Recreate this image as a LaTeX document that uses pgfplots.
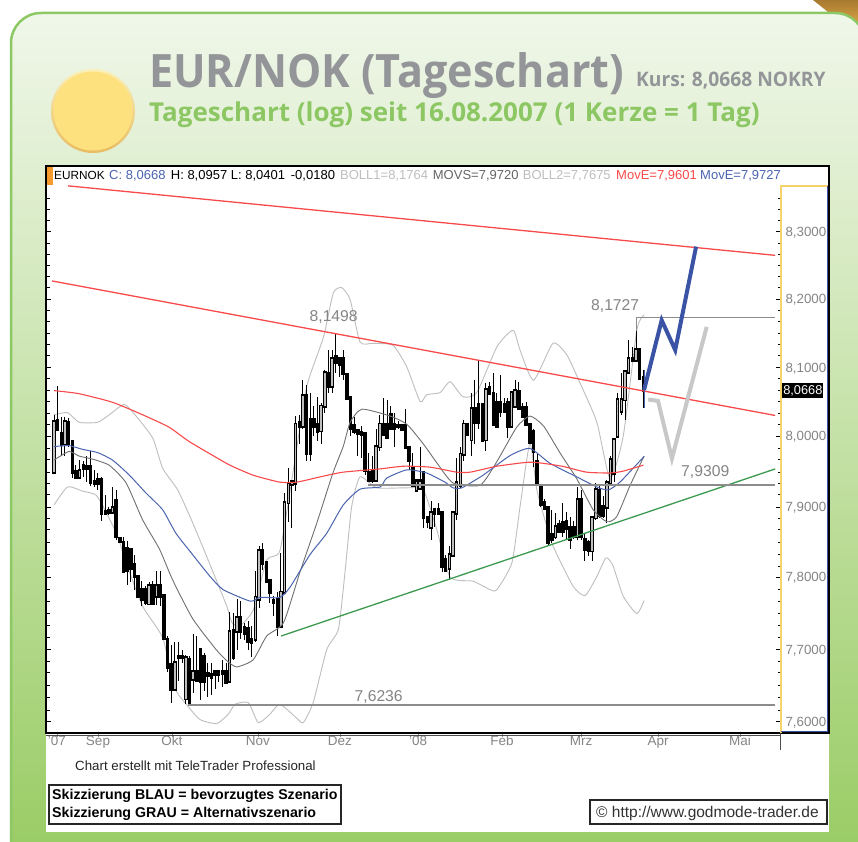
\documentclass[border=0pt]{standalone}
\usepackage{fontspec}
\setmainfont{Liberation Sans}
\newfontfamily\titlefont{Open Sans}
\usepackage{graphicx}
\usepackage{pgfplots}
\usepackage{pgfplotstable}
\pgfplotsset{compat=1.18}
\definecolor{panelg}{HTML}{8CC864}
\definecolor{titleg}{HTML}{939598}
\definecolor{subg}{HTML}{8CC763}
\definecolor{redl}{HTML}{F84A4A}
\definecolor{bluel}{HTML}{4A64B0}
\definecolor{bluet}{HTML}{3A53A4}
\definecolor{greenl}{HTML}{3D9A50}
\definecolor{lightl}{HTML}{BEBEBE}
\definecolor{movs}{HTML}{707070}
\definecolor{hline}{HTML}{8C8C8C}
\definecolor{txtg}{HTML}{858585}
\definecolor{cornera}{HTML}{A87A30}
\definecolor{cornerb}{HTML}{F0B850}
\definecolor{panela}{HTML}{F0F7EA}
\definecolor{panelb}{HTML}{DCEBCC}
\definecolor{panelc}{HTML}{98CB62}
\definecolor{balla}{HTML}{FBF0B8}
\definecolor{ballb}{HTML}{E8BC62}
\definecolor{ballc}{HTML}{FDE17F}
\definecolor{orangebox}{HTML}{F59A2C}
\definecolor{yellowl}{HTML}{F5D36A}
\newcommand{\fs}[1]{\fontsize{#1}{#1}\selectfont}
% candles: day open high low close
\pgfplotstableread{
x o h l c
0 7.950 8.031 7.948 8.020
1 8.022 8.073 8.008 8.010
2 8.003 8.027 7.972 7.989
3 7.991 8.027 7.974 8.020
4 8.020 8.026 7.986 7.991
5 7.993 7.995 7.941 7.950
6 7.950 7.960 7.941 7.943
7 7.943 7.967 7.940 7.951
8 7.958 7.965 7.943 7.955
9 7.957 7.974 7.936 7.956
10 7.957 7.979 7.930 7.936
11 7.936 7.952 7.928 7.934
12 7.938 7.948 7.924 7.934
13 7.938 7.943 7.880 7.891
14 7.893 7.917 7.889 7.891
15 7.895 7.900 7.889 7.893
16 7.893 7.928 7.892 7.898
17 7.908 7.924 7.853 7.858
18 7.855 7.858 7.851 7.852
19 7.849 7.858 7.807 7.809
20 7.840 7.852 7.790 7.811
21 7.839 7.840 7.793 7.814
22 7.818 7.832 7.783 7.802
23 7.800 7.802 7.772 7.774
24 7.783 7.795 7.760 7.769
25 7.783 7.788 7.762 7.766
26 7.764 7.793 7.762 7.788
27 7.788 7.795 7.762 7.764
28 7.774 7.809 7.762 7.788
29 7.788 7.809 7.760 7.774
30 7.774 7.775 7.714 7.716
31 7.714 7.718 7.668 7.675
32 7.679 7.705 7.626 7.645
33 7.645 7.710 7.644 7.681
34 7.690 7.710 7.656 7.688
35 7.690 7.700 7.682 7.689
36 7.632 7.692 7.625 7.688
37 7.686 7.690 7.6236 7.628
38 7.658 7.721 7.640 7.668
39 7.668 7.718 7.654 7.658
40 7.700 7.701 7.630 7.656
41 7.690 7.696 7.642 7.656
42 7.666 7.682 7.635 7.664
43 7.664 7.682 7.637 7.662
44 7.668 7.672 7.644 7.666
45 7.668 7.672 7.654 7.666
46 7.669 7.686 7.647 7.667
47 7.668 7.682 7.651 7.654
48 7.656 7.753 7.654 7.724
49 7.725 7.751 7.686 7.689
50 7.725 7.769 7.700 7.744
51 7.744 7.767 7.714 7.725
52 7.730 7.737 7.712 7.723
53 7.728 7.739 7.700 7.712
54 7.714 7.732 7.689 7.710
55 7.714 7.809 7.710 7.772
56 7.769 7.844 7.758 7.837
57 7.837 7.849 7.811 7.821
58 7.821 7.823 7.795 7.795
59 7.795 7.797 7.765 7.779
60 7.768 7.774 7.746 7.766
61 7.769 7.779 7.718 7.732
62 7.732 7.834 7.729 7.779
63 7.779 7.920 7.776 7.906
64 7.906 7.956 7.879 7.932
65 7.932 7.936 7.870 7.935
66 7.934 8.029 7.922 8.017
67 8.020 8.031 7.991 8.015
68 8.015 8.081 8.010 8.058
69 8.058 8.074 7.965 7.977
70 8.024 8.063 7.965 7.977
71 8.024 8.043 8.000 8.015
72 8.017 8.056 7.993 8.008
73 8.008 8.048 7.991 8.043
74 8.043 8.096 8.034 8.091
75 8.091 8.125 8.063 8.072
76 8.072 8.125 8.063 8.112
77 8.115 8.1498 8.091 8.108
78 8.113 8.115 8.086 8.105
79 8.112 8.125 8.081 8.091
80 8.089 8.091 8.055 8.055
81 8.055 8.056 8.000 8.012
82 8.015 8.027 8.003 8.008
83 8.008 8.010 7.972 8.004
84 8.005 8.015 7.970 8.003
85 8.003 8.006 7.946 7.953
86 7.948 7.977 7.936 7.938
87 7.949 7.972 7.934 7.938
88 7.938 8.010 7.936 7.986
89 7.986 8.030 7.980 8.017
90 8.017 8.055 8.000 8.003
91 8.017 8.053 7.998 8.000
92 8.031 8.043 8.012 8.012
93 8.016 8.034 7.986 8.012
94 8.015 8.022 8.010 8.014
95 8.015 8.017 8.008 8.010
96 8.015 8.039 7.986 7.986
97 7.985 7.986 7.953 7.967
98 7.955 7.977 7.929 7.931
99 7.924 7.937 7.923 7.936
100 7.927 7.986 7.926 7.936
101 7.948 7.950 7.870 7.884
102 7.884 7.885 7.870 7.879
103 7.872 7.908 7.853 7.891
104 7.896 7.898 7.872 7.891
105 7.896 7.905 7.890 7.891
106 7.891 7.893 7.807 7.816
107 7.825 7.832 7.811 7.811
108 7.814 7.844 7.797 7.832
109 7.832 7.892 7.832 7.891
110 7.891 7.970 7.882 7.934
111 7.931 7.985 7.927 7.975
112 7.975 8.024 7.965 8.017
113 8.017 8.019 8.001 8.003
114 7.996 8.062 7.974 8.039
115 8.039 8.081 7.991 8.020
116 8.046 8.110 8.010 8.020
117 8.046 8.048 7.996 7.996
118 7.996 8.077 7.979 8.067
119 8.070 8.079 8.060 8.062
120 8.062 8.091 8.015 8.017
121 8.048 8.062 8.013 8.015
122 8.048 8.089 8.027 8.036
123 8.046 8.055 8.034 8.036
124 8.048 8.055 7.998 8.015
125 8.015 8.066 8.012 8.062
126 8.043 8.081 8.041 8.065
127 8.065 8.079 8.039 8.041
128 8.041 8.048 8.029 8.029
129 8.041 8.050 8.015 8.017
130 8.017 8.019 7.990 7.993
131 8.006 8.010 7.957 7.979
132 7.965 7.977 7.931 7.934
133 7.930 7.931 7.900 7.905
134 7.905 7.912 7.896 7.898
135 7.898 7.900 7.846 7.851
136 7.860 7.896 7.849 7.855
137 7.858 7.891 7.855 7.872
138 7.875 7.882 7.863 7.865
139 7.877 7.905 7.858 7.865
140 7.879 7.893 7.853 7.870
141 7.870 7.886 7.840 7.855
142 7.870 7.880 7.855 7.858
143 7.858 7.929 7.853 7.910
144 7.910 7.924 7.853 7.858
145 7.853 7.863 7.823 7.840
146 7.849 7.853 7.830 7.837
147 7.837 7.886 7.823 7.884
148 7.884 7.934 7.882 7.924
149 7.922 7.931 7.885 7.889
150 7.900 7.915 7.885 7.889
151 7.900 7.938 7.877 7.934
152 7.934 7.972 7.930 7.967
153 7.948 7.998 7.935 7.996
154 8.000 8.062 7.998 8.053
155 8.036 8.091 8.030 8.053
156 8.053 8.096 8.024 8.093
157 8.093 8.140 8.091 8.112
158 8.112 8.130 8.108 8.111
159 8.110 8.1727 8.108 8.125
160 8.125 8.128 8.082 8.084
161 8.0848 8.0957 8.0401 8.0668
}\candles
\begin{document}
\begin{tikzpicture}[x=1pt,y=1pt]
\useasboundingbox (0,0) rectangle (858,841);
\begin{scope}
\clip (0,0) rectangle (858,841);
\fill[white] (0,0) rectangle (858,841);
\shade[top color=cornera,bottom color=cornerb] (813,841) -- (858,841) -- (858,805) -- cycle;
\path[draw=panelg,line width=2.5pt,top color=panela,middle color=panelb,bottom color=panelc,rounded corners=30pt]
  (11,-30) -- (11,828) -- (865,828) -- (865,-30) -- cycle;
% ball
\shade[top color=balla,bottom color=ballb] (93,730) circle (42);
\fill[ballc] (93,730) circle (39.5);
% white chart box
\fill[white] (46,9) rectangle (829,675);
\end{scope}
\node[anchor=base west,inner sep=0,text=titleg] at (149,753) {\scalebox{0.937}[1]{\titlefont\bfseries\fs{46}EUR/NOK (Tageschart)}};
\node[anchor=base west,inner sep=0,text=titleg] at (636,754) {\scalebox{0.96}[1]{\titlefont\bfseries\fs{20}Kurs: 8,0668 NOKRY}};
\node[anchor=base west,inner sep=0,text=subg] at (149,719) {\titlefont\bfseries\fs{26}Tageschart (log) seit 16.08.2007 (1 Kerze = 1 Tag)};
\begin{axis}[
  at={(46pt,108pt)},anchor=south west,
  scale only axis,width=735pt,height=547pt,
  xmin=-2.186,xmax=198.6,
  ymode=log,ymin=7.585,ymax=8.369,
  clip=false,
  axis line style={draw=none},
  tick align=inside,
  major tick length=5pt,minor tick length=3.5pt,
  y tick style={black,line width=0.9pt},
  ytick={7.6,7.7,7.8,7.9,8.0,8.1,8.2,8.3},
  yticklabels={{7,6000},{7,7000},{7,8000},{7,9000},{8,0000},{8,1000},{8,2000},{8,3000}},
  yticklabel pos=right,
  yticklabel style={font=\fs{13.3},text=txtg,anchor=west,xshift=1pt,yshift=-1pt},
  minor ytick={7.6167,7.6333,7.65,7.6667,7.6833,7.7167,7.7333,7.75,7.7667,7.7833,7.8167,7.8333,7.85,7.8667,7.8833,7.9167,7.9333,7.95,7.9667,7.9833,8.0167,8.0333,8.05,8.0667,8.0833,8.1167,8.1333,8.15,8.1667,8.1833,8.2167,8.2333,8.25,8.2667,8.2833,8.3167,8.3333,8.35},
  xtick={0.8,12.02,32.2,55.7,78.1,99.5,122.4,144,165,187.4},
  xticklabels={{'07},Sep,Okt,Nov,Dez,{'08},Feb,Mrz,Apr,Mai},
  xticklabel style={font=\fs{13.5},text=txtg,text height=10pt,text depth=3pt,yshift=1pt},
  xtick pos=bottom,
  x tick style={hline,line width=0.6pt,yshift=-4pt},
]
% bollinger bands
\addplot[lightl,line width=0.9pt,smooth,tension=0.35] coordinates {(0,8.031)(3.7,8.034)(6.9,8.02)(11.9,8.02)(15.1,8.031)(19.2,8.046)(22.4,8.029)(27,7.998)(29.7,7.955)(33.8,7.924)(37.9,7.877)(42.4,7.821)(47.2,7.76)(48.6,7.737)(50.8,7.732)(54.5,7.755)(58.1,7.825)(61.7,7.837)(65.3,7.95)(69,8.071)(73.6,8.144)(76.3,8.209)(78.6,8.217)(80.9,8.199)(83.6,8.137)(87.2,8.135)(92.6,8.132)(96.4,8.1)(100,8.05)(101.8,8.06)(105.5,8.063)(108.2,8.079)(111.7,8.057)(115.5,8.063)(121,8.13)(125.4,8.154)(127.3,8.125)(131,8.081)(136.3,8.135)(140.1,8.118)(143.7,8.077)(148.3,8.02)(151.9,7.939)(155.5,8.0)(159.2,8.154)(161.2,8.1764)};
\addplot[lightl,line width=0.9pt,smooth,tension=0.35] coordinates {(0,7.903)(3.7,7.928)(7.8,7.922)(11.5,7.917)(14.3,7.892)(17.4,7.858)(19.7,7.821)(24.2,7.76)(29.7,7.716)(32.9,7.647)(36.3,7.6236)(39.9,7.603)(44.5,7.597)(47.6,7.61)(49.5,7.624)(53.1,7.626)(55.8,7.599)(59,7.61)(61.7,7.624)(66.3,7.605)(68.1,7.599)(70.8,7.626)(74.5,7.70)(77.7,7.728)(79.5,7.807)(81.3,7.90)(83.6,7.943)(88.2,7.927)(96.4,7.927)(100.9,7.924)(104.6,7.867)(108.2,7.80)(114.5,7.795)(119.1,7.783)(121,7.783)(125.1,7.821)(127.3,7.90)(130,7.991)(131.9,7.924)(134.1,7.882)(136.3,7.844)(141.8,7.788)(145.1,7.775)(148.3,7.802)(150.8,7.828)(152.7,7.816)(155.5,7.774)(159.2,7.75)(161.2,7.7675)};
% candles: wick, body, light inside of rising bodies
\addplot[draw=none,mark=none,forget plot,
  error bars/.cd,y dir=both,y explicit,error mark=none,
  error bar style={black,line width=1pt}]
  table[x=x,y=c,y error plus expr=\thisrow{h}-\thisrow{c},y error minus expr=\thisrow{c}-\thisrow{l}] {\candles};
\addplot[draw=none,mark=none,forget plot,
  error bars/.cd,y dir=both,y explicit,error mark=none,
  error bar style={black,line width=3.5pt,line cap=rect}]
  table[x=x,y=c,y error plus expr={max(\thisrow{o}-\thisrow{c},0.0002)},y error minus expr={max(\thisrow{c}-\thisrow{o},0.0002)}] {\candles};
\addplot[draw=none,mark=none,forget plot,
  error bars/.cd,y dir=both,y explicit,error mark=none,
  error bar style={white!75!black,line width=1.5pt}]
  table[x=x,y expr=\thisrow{c},y error plus expr=0,y error minus expr={max(\thisrow{c}-\thisrow{o},0)}] {\candles};
% moving averages
\addplot[movs,line width=0.9pt,smooth,tension=0.35] coordinates {(0,7.967)(4.1,7.979)(6.9,7.972)(10.6,7.9685)(15.1,7.96)(19.7,7.934)(24.2,7.882)(28.8,7.84)(32.4,7.797)(37.9,7.742)(44.3,7.70)(47.2,7.684)(49.9,7.676)(54.4,7.686)(58.1,7.718)(62.7,7.737)(67.2,7.807)(71.8,7.877)(76.2,7.948)(79,7.986)(80.9,8.02)(84.1,8.039)(91.8,8.029)(96.4,8.017)(100.8,7.991)(104.6,7.963)(109,7.934)(116.4,7.931)(121,7.965)(126.4,8.013)(130,8.029)(133.7,8.015)(138.3,7.977)(142.8,7.939)(147.3,7.896)(151,7.879)(153.7,7.886)(157.4,7.931)(161.2,7.972)};
\addplot[bluel,line width=1pt,smooth,tension=0.35] coordinates {(0,7.986)(4.1,7.9875)(7.8,7.982)(11.9,7.9775)(16,7.966)(20.6,7.946)(25.1,7.9195)(29.7,7.896)(33.3,7.863)(37.9,7.832)(42.6,7.802)(46.2,7.783)(53.6,7.767)(56.3,7.7725)(61.7,7.772)(64.5,7.786)(69.9,7.832)(74.5,7.863)(79,7.903)(83.6,7.925)(89.1,7.929)(90.9,7.941)(96.4,7.953)(101.8,7.9485)(106.8,7.936)(109,7.927)(111.4,7.927)(117.2,7.946)(124.6,7.974)(130,7.983)(135.5,7.9625)(142.8,7.943)(148.3,7.929)(151.4,7.924)(154.6,7.936)(161.2,7.9727)};
\addplot[redl,line width=1.1pt,smooth,tension=0.35] coordinates {(0,8.066)(6.8,8.0615)(16,8.049)(24.2,8.031)(31.4,8.013)(36.9,7.993)(44.3,7.971)(48.1,7.96)(54.4,7.946)(61.7,7.935)(66.3,7.936)(72.7,7.943)(79,7.95)(89,7.954)(95.4,7.9585)(102.7,7.957)(110,7.95)(113.7,7.95)(121,7.9585)(129.2,7.964)(132.8,7.963)(139,7.9575)(145.5,7.95)(151.9,7.9485)(155.5,7.951)(161,7.9601)};
% trend lines and levels
\addplot[redl,line width=1.3pt] coordinates {(3.83,8.369)(197,8.265)};
\addplot[redl,line width=1.3pt] coordinates {(-0.55,8.227)(197,8.030)};
\addplot[greenl,line width=1.3pt] coordinates {(62,7.718)(197,7.954)};
\addplot[hline,line width=1.1pt] coordinates {(159.2,8.153)(159.2,8.1727)(197,8.1727)};
\addplot[hline,line width=1.1pt] coordinates {(85.8,7.9309)(197,7.9309)};
\addplot[hline,line width=1.1pt] coordinates {(36.7,7.6236)(197,7.6236)};
% sketched scenarios
\addplot[lightl!85!white,line width=4pt,line join=miter] coordinates {(162.3,8.053)(165,8.051)(168.8,7.970)(178.3,8.159)};
\addplot[bluel,line width=1pt] coordinates {(161.2,8.0401)(161.2,8.0957)};
\addplot[bluet,line width=4pt,line join=miter] coordinates {(161.2,8.067)(166,8.169)(169.7,8.125)(175.4,8.278)};
% price labels
\node[text=txtg,font=\fs{15.7}] at (axis cs:76.4,8.1498) [yshift=16pt] {8,1498};
\node[text=txtg,font=\fs{15.7}] at (axis cs:153.3,8.1727) [yshift=12pt] {8,1727};
\node[text=txtg,font=\fs{15.7}] at (axis cs:177.9,7.9309) [yshift=13pt] {7,9309};
\node[text=txtg,font=\fs{15.7}] at (axis cs:88.7,7.6236) [yshift=8pt] {7,6236};
\node[anchor=west,fill=black,text=white,inner xsep=1pt,inner ysep=2pt,font=\fs{12.8}] at (axis cs:198.9,8.0668) [yshift=-0.5pt] {8,0668};
\end{axis}
% chart frame
\draw[black,line width=1.5pt] (46,108) rectangle (829,675);
\fill[orangebox] (47,656) rectangle (53,674);
\draw[yellowl,line width=1.2pt] (781,108) -- (781,655) -- (828,655);
\draw[bluet,line width=1.2pt] (781,109.3) -- (827.8,109.3) -- (827.8,655);
\draw[black!70,line width=0.9pt] (46,106) -- (780,106);
\draw[black!70,line width=1pt] (780,108) -- (780,91);
% header
\begin{scope}[every node/.style={anchor=base west,inner sep=0,font=\fs{13}}]
\node[font=\fs{11.8}] at (54,661) {EURNOK};
\node[text=bluel] at (109,661) {C: 8,0668};
\node at (170.7,661) {H: 8,0957};
\node at (230.7,661) {L: 8,0401};
\node at (290.7,661) {-0,0180};
\node[text=lightl] at (340,661) {BOLL1=8,1764};
\node[text=black!60] at (432.7,661) {MOVS=7,9720};
\node[text=lightl] at (522.7,661) {BOLL2=7,7675};
\node[text=redl] at (616,661) {MovE=7,9601};
\node[text=bluel] at (700,661) {MovE=7,9727};
\end{scope}
% footer
\node[anchor=base west,inner sep=0,font=\fs{13.3},text=black!85] at (75,71) {Chart erstellt mit TeleTrader Professional};
\draw[black!85,line width=1.2pt,fill=white] (49,17) rectangle (341,56);
\node[anchor=base west,inner sep=0,font=\fs{14.2}\bfseries] at (52,41.5) {Skizzierung BLAU = bevorzugtes Szenario};
\node[anchor=base west,inner sep=0,font=\fs{14.2}\bfseries] at (52,24) {Skizzierung GRAU = Alternativszenario};
\draw[black!85,line width=1.2pt,fill=white] (590,17) rectangle (827,41);
\node[anchor=base west,inner sep=0,font=\fs{15.5},text=black!80] at (596,24) {© http://www.godmode-trader.de};
\end{tikzpicture}
\end{document}
